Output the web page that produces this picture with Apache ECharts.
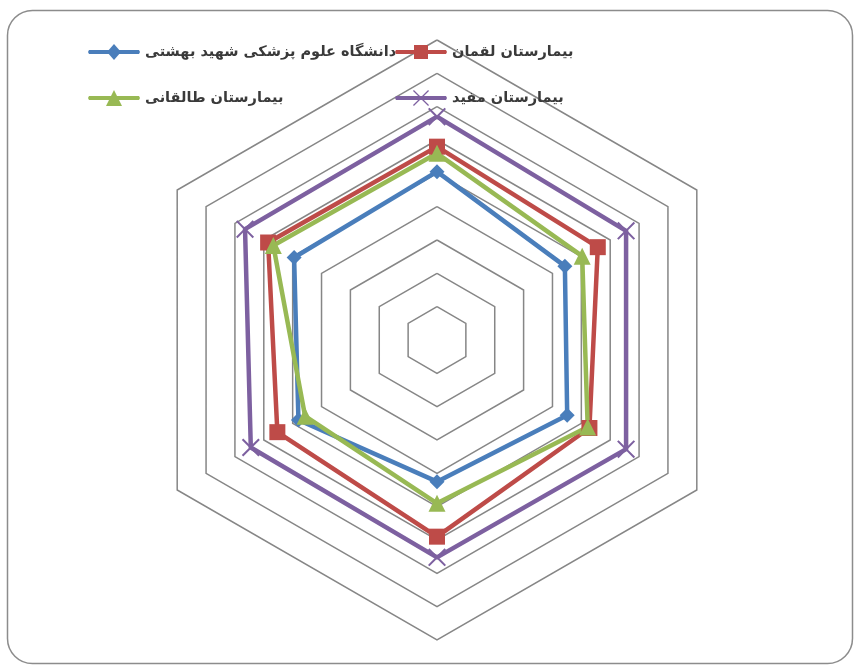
<!DOCTYPE html>
<html>
<head>
<meta charset="utf-8">
<script src="https://cdn.jsdelivr.net/npm/echarts@6/dist/echarts.min.js"></script>
<style>
html,body{margin:0;padding:0;background:#fff;}
#chart{width:857px;height:666px;}
</style>
</head>
<body>
<div id="chart"></div>
<script>
// Axes listed clockwise from the top (as in the reference)
const axisNames = ['', '', '', '', '', ''];
const axisMax = 90;
const seriesNames = ['دانشگاه علوم پزشکی شهید بهشتی', 'بیمارستان لقمان', 'بیمارستان طالقانی', 'بیمارستان مفید'];
const beheshti = [50.5, 44.3, 45.1, 42.5, 48.0, 49.5];
const loghman  = [58.0, 55.7, 52.8, 59.0, 55.3, 58.5];
const taleghani= [56.0, 50.3, 52.2, 49.0, 45.7, 56.7];
const mofid    = [67.0, 65.5, 65.5, 65.2, 64.5, 66.5];

const colors = ['#4a7ebb', '#be4b48', '#98b954', '#7d60a0'];
const xPath = 'path://M0,0.8L0.8,0L5,4.2L9.2,0L10,0.8L5.8,5L10,9.2L9.2,10L5,5.8L0.8,10L0,9.2L4.2,5Z';
const symbols = ['diamond', 'rect', 'triangle', xPath];
const symbolSizes = [15, 16, 17, 18];

// Legend icons: a line with the series marker in the middle (52 x 16 box)
const lineRect = 'M1,6 L51,6 L52,8 L51,10 L1,10 L0,8 Z ';
const legendIcons = [
  'path://' + lineRect + 'M26,0 L33,8 L26,16 L19,8 Z',
  'path://' + lineRect + 'M19,1 L33,1 L33,15 L19,15 Z M26,0 L26,0.01 L26.01,0 Z M26,16 L26,15.99 L26.01,16 Z',
  'path://' + lineRect + 'M26,0 L34,16 L18,16 Z',
  'path://' + lineRect + 'M18,0.9 L18.9,0 L26,7.1 L33.1,0 L34,0.9 L26.9,8 L34,15.1 L33.1,16 L26,8.9 L18.9,16 L18,15.1 L25.1,8 Z'
];

// ECharts places indicators counter-clockwise; convert clockwise order
function ccw(arr){ return [arr[0]].concat(arr.slice(1).reverse()); }

const dataSets = [beheshti, loghman, taleghani, mofid];
const indicators = ccw(axisNames).map(n => ({name: n, max: axisMax, min: 0}));

const chart = echarts.init(document.getElementById('chart'));
const legendPos = [
  {left: 88, top: 44},
  {left: 395, top: 44},
  {left: 88, top: 90},
  {left: 395, top: 90}
];
chart.setOption({
  animation: false,
  backgroundColor: '#fff',
  color: colors,
  graphic: [{
    type: 'rect',
    shape: {x: 7.5, y: 10.5, width: 845, height: 653, r: 25},
    style: {fill: 'none', stroke: '#8c8c8c', lineWidth: 1.5},
    z: -1
  }],
  legend: seriesNames.map((n, i) => ({
    data: [{name: n, icon: legendIcons[i], itemStyle: {color: colors[i], borderWidth: 0}}],
    left: legendPos[i].left,
    top: legendPos[i].top,
    padding: 0,
    itemWidth: 52,
    itemHeight: 16,
    itemGap: 0,
    textStyle: {fontFamily: 'DejaVu Sans', fontWeight: 'bold', fontSize: 14.5, color: '#3a3a3a'}
  })),
  radar: {
    center: [437, 340],
    radius: 300,
    startAngle: 90,
    shape: 'polygon',
    splitNumber: 9,
    indicator: indicators,
    axisName: {show: false},
    axisLine: {show: false},
    axisTick: {show: false},
    axisLabel: {show: false},
    splitArea: {show: false},
    splitLine: {lineStyle: {color: '#868686', width: 1.5}}
  },
  series: [{
    type: 'radar',
    data: dataSets.map((d, i) => ({
      name: seriesNames[i],
      value: ccw(d),
      symbol: symbols[i],
      symbolSize: symbolSizes[i],
      itemStyle: {color: colors[i]},
      lineStyle: {color: colors[i], width: 4.5}
    }))
  }]
});
</script>
</body>
</html>
